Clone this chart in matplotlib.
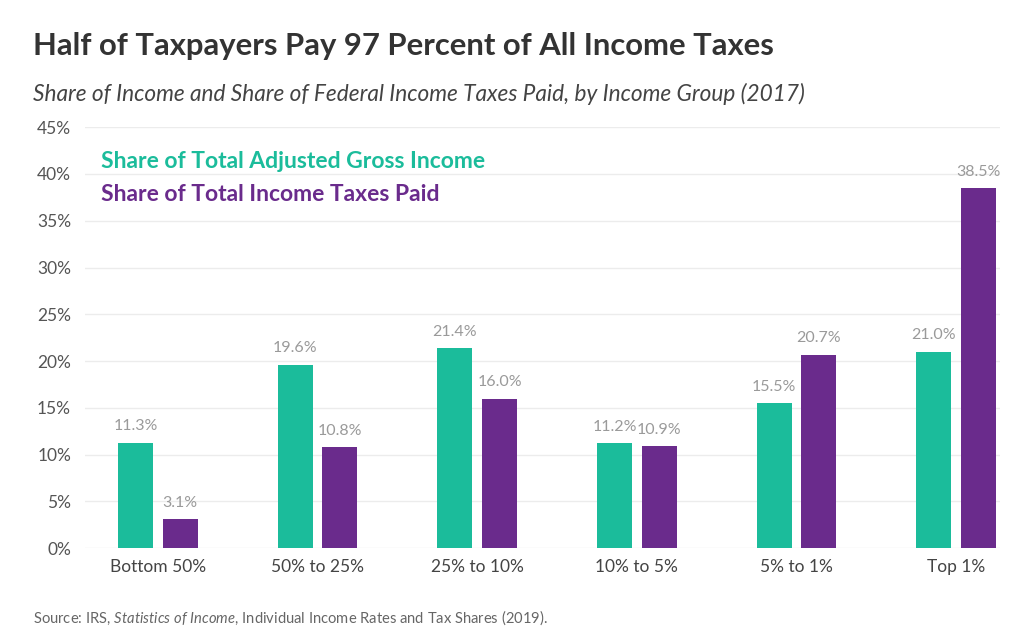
import matplotlib.pyplot as plt
import numpy as np

groups = ['Bottom 50%', '50% to 25%', '25% to 10%', '10% to 5%', '5% to 1%', 'Top 1%']
income_share = [11.3, 19.6, 21.4, 11.2, 15.5, 21.0]
tax_share = [3.1, 10.8, 16.0, 10.9, 20.7, 38.5]
yticks = [0, 5, 10, 15, 20, 25, 30, 35, 40, 45]

green = '#1bbc9b'
purple = '#6a2b8c'

plt.rcParams['font.family'] = ['Lato', 'DejaVu Sans']
plt.rcParams['mathtext.fontset'] = 'custom'
plt.rcParams['mathtext.rm'] = 'Lato'
plt.rcParams['mathtext.it'] = 'Lato:italic'

fig = plt.figure(figsize=(10.18, 6.36), dpi=100)
ax = fig.add_axes([0.0835, 0.138, 0.899, 0.662])

x = np.arange(len(groups))
w = 0.22
off = 0.14
ax.bar(x - off, income_share, w, color=green, zorder=3)
ax.bar(x + off, tax_share, w, color=purple, zorder=3)

# value labels above bars
for i in range(len(groups)):
    ax.text(x[i] - off, income_share[i] + 1.0, '%.1f%%' % income_share[i],
            ha='center', va='bottom', fontsize=11.5, color='#9a9a9a')
    ax.text(x[i] + off, tax_share[i] + 1.0, '%.1f%%' % tax_share[i],
            ha='center', va='bottom', fontsize=11.5, color='#9a9a9a')

ax.set_xlim(-0.457, 5.276)
ax.set_ylim(0, 45)
ax.set_yticks(yticks)
ax.set_yticklabels([str(t) + '%' for t in yticks], fontsize=12.5, color='#555555')
ax.set_xticks(x)
ax.set_xticklabels(groups, fontsize=12.5, color='#444444')
ax.tick_params(length=0, pad=8)
ax.tick_params(axis='y', pad=10)
ax.grid(axis='y', color='#ececec', linewidth=1, zorder=0)
for s in ax.spines.values():
    s.set_visible(False)

# legend as coloured text
ax.text(0.017, 0.919, 'Share of Total Adjusted Gross Income', transform=ax.transAxes,
        fontsize=16.5, fontweight='bold', color=green, va='center')
ax.text(0.017, 0.839, 'Share of Total Income Taxes Paid', transform=ax.transAxes,
        fontsize=16.5, fontweight='bold', color=purple, va='center')

fig.text(0.032, 0.928, 'Half of Taxpayers Pay 97 Percent of All Income Taxes',
         fontsize=22.3, fontweight='bold', color='#333333', va='center')
fig.text(0.032, 0.853, 'Share of Income and Share of Federal Income Taxes Paid, by Income Group (2017)',
         fontsize=16.3, style='italic', color='#444444', va='center')
fig.text(0.032, 0.028, 'Source: IRS, $\\it{Statistics\\ of\\ Income}$, Individual Income Rates and Tax Shares (2019).',
         fontsize=10.6, color='#666666', va='center')

fig.savefig('out.png', dpi=100, facecolor='white')
